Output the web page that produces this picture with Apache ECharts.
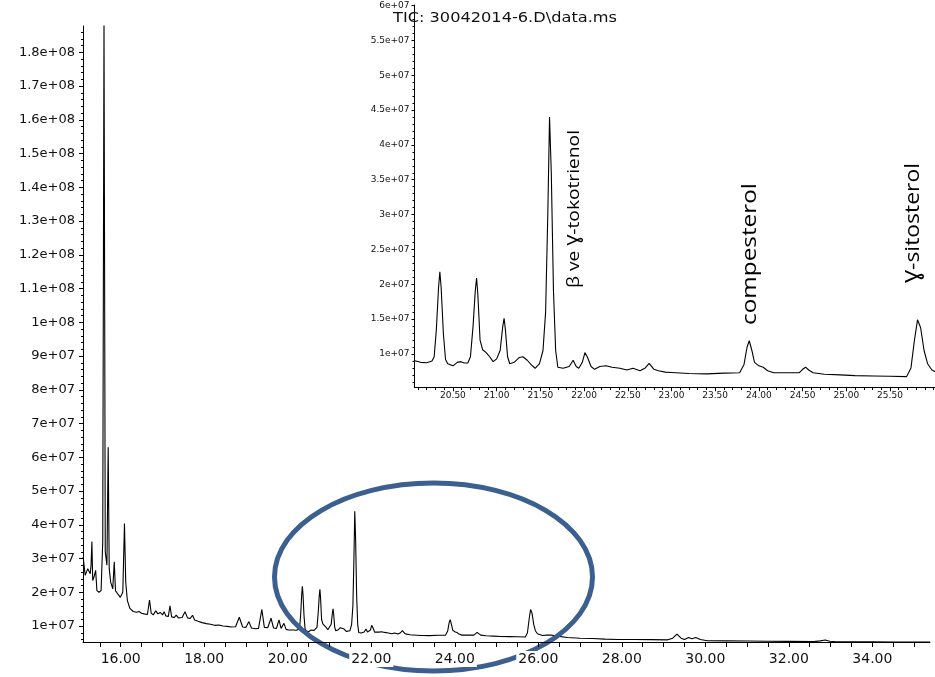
<!DOCTYPE html>
<html><head><meta charset="utf-8">
<script src="https://cdn.jsdelivr.net/npm/echarts@6/dist/echarts.min.js"></script>
<style>html,body{margin:0;padding:0;background:#fff}#c{width:935px;height:677px}</style>
</head><body><div id="c"></div>
<script>
// ---- data: retention time (min) and TIC abundance ----
const rtEarly = [15.10,15.15,15.18,15.21,15.24,15.27,15.29,15.31,15.33,15.36,15.40,15.43,15.48,15.53,15.57,15.60,15.63,15.67,15.70,15.725,15.76,15.81,15.845,15.875,15.93,15.99,16.05,16.09,16.12,16.16,16.22,16.30,16.38,16.44,16.50,16.56,16.64,16.69,16.73,16.78,16.84,16.89,16.95,17.00,17.04,17.08,17.14,17.18,17.22,17.28,17.33,17.38,17.47,17.54,17.60,17.66,17.72,17.77,17.85,17.95,18.05,18.15,18.25,18.35,18.45,18.55,18.65,18.75,18.84,18.92,19.00,19.07,19.13,19.22,19.30,19.38,19.44,19.52,19.60,19.66,19.73,19.79,19.84,19.91,19.96,20.02];
const abEarly = [3.05e7,2.5e7,2.45e7,2.7e7,2.75e7,2.55e7,2.8e7,3.5e7,2.35e7,2.45e7,2.65e7,2.05e7,2.0e7,2.05e7,3.5e7,1.9e8,3.2e7,2.8e7,6.3e7,2.7e7,2.3e7,2.1e7,2.9e7,2.05e7,1.95e7,1.85e7,2.0e7,4.04e7,2.3e7,1.75e7,1.52e7,1.43e7,1.41e7,1.43e7,1.38e7,1.36e7,1.34e7,1.77e7,1.38e7,1.33e7,1.45e7,1.36e7,1.4e7,1.33e7,1.42e7,1.3e7,1.28e7,1.6e7,1.27e7,1.25e7,1.32e7,1.24e7,1.25e7,1.42e7,1.24e7,1.22e7,1.32e7,1.18e7,1.14e7,1.1e7,1.07e7,1.05e7,1.02e7,1.03e7,1.0e7,9.9e6,9.7e6,9.8e6,1.26e7,9.7e6,9.6e6,1.13e7,9.4e6,9.2e6,9.3e6,1.49e7,9.6e6,9.5e6,1.23e7,9.4e6,9.3e6,1.18e7,9.3e6,1.08e7,9.0e6,8.8e6];
const rtMid = [20.065,20.13,20.20,20.26,20.285,20.31,20.335,20.35,20.365,20.39,20.415,20.44,20.50,20.55,20.59,20.63,20.67,20.70,20.73,20.755,20.77,20.785,20.81,20.84,20.88,20.92,20.96,21.00,21.04,21.07,21.085,21.10,21.125,21.15,21.20,21.26,21.30,21.35,21.40,21.44,21.49,21.53,21.56,21.585,21.605,21.625,21.65,21.675,21.70,21.76,21.83,21.875,21.91,21.94,21.98,22.01,22.04,22.08,22.12,22.18,22.25,22.32,22.41,22.49,22.56,22.64,22.70,22.745,22.80,22.85,22.93,23.00,23.20,23.40,23.60,23.78,23.83,23.865,23.89,23.92,23.95,24.00,24.05,24.10,24.17,24.30,24.46,24.50,24.535,24.57,24.62,24.75,24.93,25.10,25.31,25.50,25.69,25.74,25.78,25.815,25.85,25.89,25.93,25.98,26.02];
const abMid = [9.04e6,8.8e6,8.75e6,9.0e6,9.6e6,1.35e7,1.95e7,2.18e7,1.95e7,1.3e7,9.2e6,8.6e6,8.3e6,8.8e6,8.9e6,8.7e6,8.7e6,9.6e6,1.4e7,1.9e7,2.09e7,1.85e7,1.2e7,1.06e7,1.02e7,9.6e6,8.9e6,9.3e6,1.05e7,1.4e7,1.51e7,1.35e7,9.6e6,8.6e6,8.8e6,9.5e6,9.6e6,9.1e6,8.4e6,7.95e6,8.6e6,1.05e7,1.6e7,3.0e7,4.4e7,3.6e7,1.9e7,1.05e7,8.1e6,7.95e6,8.2e6,9.1e6,8.2e6,7.95e6,8.8e6,1.02e7,9.5e6,8.2e6,7.8e6,8.2e6,8.3e6,8.1e6,7.95e6,7.7e6,7.95e6,7.6e6,8.0e6,8.65e6,7.8e6,7.6e6,7.4e6,7.35e6,7.2e6,7.15e6,7.25e6,7.3e6,8.5e6,1.1e7,1.19e7,1.05e7,8.8e6,8.3e6,8.1e6,7.6e6,7.3e6,7.3e6,7.3e6,7.8e6,8.1e6,7.7e6,7.3e6,7.1e6,7.0e6,6.9e6,6.85e6,6.8e6,6.75e6,8.0e6,1.2e7,1.49e7,1.38e7,1.05e7,8.6e6,7.7e6,7.45e6];
const rtLate = [26.10,26.20,26.30,26.45,26.70,27.00,27.30,27.60,27.90,28.30,28.70,29.10,29.22,29.32,29.42,29.50,29.60,29.68,29.77,29.88,30.05,30.50,31.00,31.50,32.00,32.60,32.75,32.87,32.98,33.10,33.50,34.00,34.50,35.38];
const abLate = [7.2e6,7.3e6,7.35e6,7.0e6,6.6e6,6.35e6,6.3e6,6.1e6,6.0e6,6.0e6,5.95e6,5.9e6,6.4e6,7.6e6,6.4e6,6.0e6,6.6e6,6.2e6,6.6e6,6.0e6,5.65e6,5.6e6,5.55e6,5.5e6,5.45e6,5.36e6,5.6e6,5.85e6,5.5e6,5.36e6,5.35e6,5.3e6,5.27e6,5.27e6];

// ---- tick labels ----
const mainXLabels = [16,18,20,22,24,26,28,30,32,34];
const mainYLabels = [1e7,2e7,3e7,4e7,5e7,6e7,7e7,8e7,9e7,1e8,1.1e8,1.2e8,1.3e8,1.4e8,1.5e8,1.6e8,1.7e8,1.8e8];
const insetXLabels = [20.5,21,21.5,22,22.5,23,23.5,24,24.5,25,25.5];
const insetYLabels = [1e7,1.5e7,2e7,2.5e7,3e7,3.5e7,4e7,4.5e7,5e7,5.5e7,6e7];
const peakNames = ['β ve Ɣ-tokotrienol','compesterol','Ɣ-sitosterol'];
const chartTitle = 'TIC: 30042014-6.D\\data.ms';

const rt = rtEarly.concat(rtMid, rtLate);
const ab = abEarly.concat(abMid, abLate);
const seriesData = rt.map((t, i) => [t, ab[i]]);

// tick positions (axis geometry)
const mainXTicks = []; for (let i = 31; i <= 70; i++) mainXTicks.push(i * 0.5);
const mainYMinor = []; for (let i = 3; i <= 93; i++) mainYMinor.push(i * 2e6);
const insetXMinor = []; for (let i = 201; i <= 260; i++) insetXMinor.push(+(i * 0.1).toFixed(1));
const insetYMinor = []; for (let i = 6; i <= 60; i++) insetYMinor.push(i * 1e6);

const sci = v => v.toExponential().replace(/e\+(\d)$/, 'e+0$1');
const LBL = 'DejaVu Sans';

const ctx = document.createElement('canvas').getContext('2d');
function fit(text, font, target) { ctx.font = font; return target / ctx.measureText(text).width; }
const annFont = '20px "Open Sans", "Noto Sans", "DejaVu Sans"';
const annFontS = '17px "Open Sans", "Noto Sans", "DejaVu Sans"';
const titleFont = '14px "DejaVu Sans"';

function annot(text, font, x, y, len) {
  return { type: 'text', x: x, y: y, rotation: Math.PI / 2, scaleX: fit(text, font, len), z: 20,
    style: { text: text, font: font, fill: '#000', align: 'center', verticalAlign: 'middle', textAlign: 'center', textVerticalAlign: 'middle' } };
}

const chart = echarts.init(document.getElementById('c'), null, { renderer: 'canvas' });
chart.setOption({
  animation: false,
  backgroundColor: '#fff',
  grid: [
    { left: 83, top: 26, width: 847, height: 616 },
    { left: 414.5, top: 5, width: 520.5, height: 382.5 }
  ],
  xAxis: [
    { type: 'value', gridIndex: 0, position: 'bottom', min: 15.097, max: 35.38, z: 10,
      axisLine: { onZero: false, lineStyle: { color: '#000', width: 1 } },
      axisTick: { customValues: mainXTicks, length: 5, lineStyle: { color: '#000' } },
      axisLabel: { customValues: mainXLabels, formatter: v => v.toFixed(2), fontFamily: LBL, fontSize: 14, color: '#111', margin: 9, backgroundColor: '#fff', padding: [1, 2] },
      splitLine: { show: false } },
    { type: 'value', gridIndex: 1, position: 'bottom', min: 20.06, max: 26.015, z: 10,
      axisLine: { onZero: false, lineStyle: { color: '#000', width: 1 } },
      axisTick: { customValues: insetXLabels, length: 4, lineStyle: { color: '#000' } },
      axisLabel: { customValues: insetXLabels, formatter: v => v.toFixed(2), fontFamily: LBL, fontSize: 9, color: '#111', margin: 4, backgroundColor: '#fff', padding: [0, 1] },
      splitLine: { show: false } },
    { type: 'value', gridIndex: 1, position: 'bottom', min: 20.06, max: 26.015, z: 10,
      axisLine: { show: false, onZero: false },
      axisTick: { customValues: insetXMinor, length: 2.5, lineStyle: { color: '#000' } },
      axisLabel: { show: false }, splitLine: { show: false } }
  ],
  yAxis: [
    { type: 'value', gridIndex: 0, position: 'left', min: 5.26e6, max: 1.878e8, z: 10,
      axisLine: { show: true, onZero: false, lineStyle: { color: '#000', width: 1 } },
      axisTick: { show: true, customValues: mainYLabels, length: 4, lineStyle: { color: '#000' } },
      axisLabel: { customValues: mainYLabels, formatter: sci, fontFamily: LBL, fontSize: 13, color: '#111', margin: 7, backgroundColor: '#fff', padding: [1, 1] },
      splitLine: { show: false } },
    { type: 'value', gridIndex: 0, position: 'left', min: 5.26e6, max: 1.878e8, z: 10,
      axisLine: { show: false, onZero: false },
      axisTick: { show: true, customValues: mainYMinor, length: 2, lineStyle: { color: '#000' } },
      axisLabel: { show: false }, splitLine: { show: false } },
    { type: 'value', gridIndex: 1, position: 'left', min: 5.19e6, max: 6.007e7, z: 10,
      axisLine: { show: true, onZero: false, lineStyle: { color: '#000', width: 1 } },
      axisTick: { show: true, customValues: insetYLabels, length: 3, lineStyle: { color: '#000' } },
      axisLabel: { customValues: insetYLabels, formatter: sci, fontFamily: LBL, fontSize: 9, color: '#111', margin: 4, backgroundColor: '#fff', padding: [0, 1] },
      splitLine: { show: false } },
    { type: 'value', gridIndex: 1, position: 'left', min: 5.19e6, max: 6.007e7, z: 10,
      axisLine: { show: false, onZero: false },
      axisTick: { show: true, customValues: insetYMinor, length: 2, lineStyle: { color: '#000' } },
      axisLabel: { show: false }, splitLine: { show: false } }
  ],
  series: [
    { type: 'line', xAxisIndex: 0, yAxisIndex: 0, data: seriesData, showSymbol: false, symbol: 'none', z: 2,
      lineStyle: { color: '#000', width: 1.1 } },
    { type: 'line', xAxisIndex: 1, yAxisIndex: 2, data: seriesData, showSymbol: false, symbol: 'none', z: 2,
      lineStyle: { color: '#000', width: 1.1 } }
  ],
  graphic: [
    { type: 'ellipse', shape: { cx: 433.5, cy: 577, rx: 159, ry: 94 }, z: 5,
      style: { fill: 'rgba(0,0,0,0)', stroke: '#3b5f8e', lineWidth: 5 } },
    { type: 'text', x: 393, y: 18.5, scaleX: fit(chartTitle, titleFont, 224), z: 20,
      style: { text: chartTitle, font: titleFont, fill: '#111', align: 'left', verticalAlign: 'middle', textAlign: 'left', textVerticalAlign: 'middle' } },
    annot(peakNames[0], annFontS, 574, 209, 158),
    annot(peakNames[1], annFont, 750, 254, 142),
    annot(peakNames[2], annFont, 913, 223, 120)
  ]
});
</script></body></html>
